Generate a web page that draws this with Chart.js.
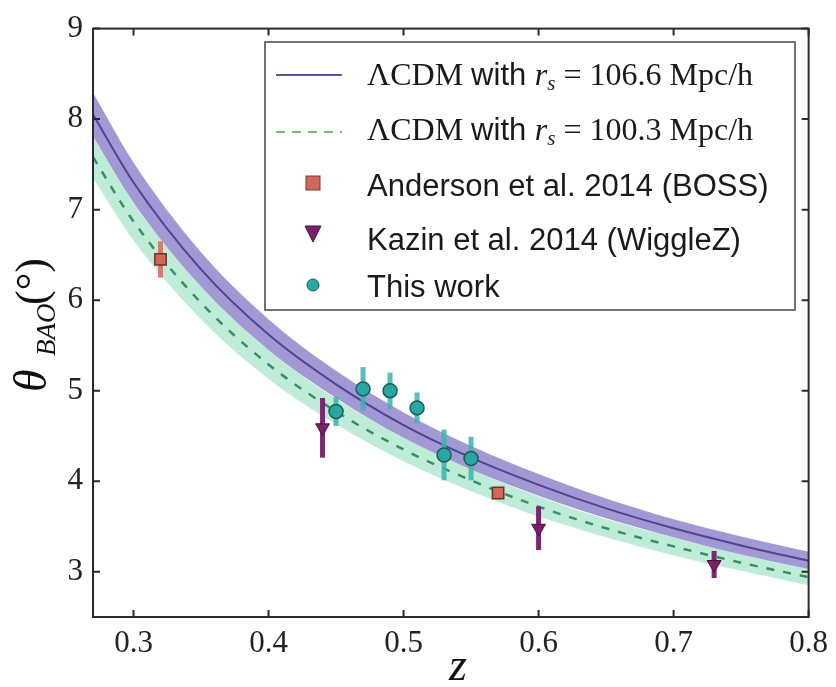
<!DOCTYPE html>
<html>
<head>
<meta charset="utf-8">
<script src="https://cdn.jsdelivr.net/npm/chart.js@4/dist/chart.umd.min.js"></script>
<style>
  html, body { margin: 0; padding: 0; background: #fff; }
  canvas { display: block; }
</style>
</head>
<body>
<canvas id="chart" width="836" height="687"></canvas>
<script>
'use strict';

// model curves
const zGrid = [0.27, 0.30, 0.35, 0.40, 0.45, 0.50, 0.55, 0.60, 0.65, 0.70, 0.75, 0.80];
const lcdm1066 = [8.05, 7.30, 6.34, 5.62, 5.07, 4.62, 4.26, 3.96, 3.70, 3.48, 3.29, 3.12];
const lcdm1066Hi = [8.29, 7.52, 6.53, 5.79, 5.22, 4.76, 4.39, 4.08, 3.81, 3.58, 3.39, 3.22];
const lcdm1066Lo = [7.81, 7.08, 6.15, 5.45, 4.92, 4.48, 4.13, 3.84, 3.59, 3.38, 3.19, 3.03];
const lcdm1003 = [7.58, 6.87, 5.97, 5.29, 4.77, 4.35, 4.01, 3.72, 3.48, 3.28, 3.10, 2.94];
const lcdm1003Hi = [7.81, 7.08, 6.15, 5.45, 4.91, 4.48, 4.13, 3.83, 3.58, 3.38, 3.19, 3.03];
const lcdm1003Lo = [7.35, 6.66, 5.79, 5.13, 4.63, 4.22, 3.89, 3.61, 3.38, 3.18, 3.01, 2.85];

// measurements
const andersonZ = [0.32, 0.57];
const andersonTheta = [6.45, 3.87];
const andersonErr = [0.20, 0.05];

const kazinZ = [0.44, 0.60, 0.73];
const kazinTheta = [4.59, 3.48, 3.08];
const kazinErr = [0.33, 0.24, 0.15];

const thisZ = [0.45, 0.47, 0.49, 0.51, 0.53, 0.55];
const thisTheta = [4.77, 5.02, 5.00, 4.81, 4.29, 4.25];
const thisErr = [0.16, 0.24, 0.20, 0.17, 0.28, 0.24];

const xTicks = [0.3, 0.4, 0.5, 0.6, 0.7, 0.8];
const yTicks = [3, 4, 5, 6, 7, 8, 9];

const SERIF = '"Liberation Serif", "DejaVu Serif", serif';
const SANS = '"Liberation Sans", Arial, sans-serif';

const pts = (xs, ys) => xs.map((x, i) => ({x: x, y: ys[i]}));

const errColor = ['rgba(214,110,98,0.9)', 'rgba(118,30,105,0.95)', 'rgba(60,180,170,0.85)'];
const errSets = [andersonErr, kazinErr, thisErr];

// error bars drawn just before each marker set
const errorBars = {
  id: 'errorBars',
  beforeDatasetDraw(chart, args) {
    const ds = chart.data.datasets[args.index];
    if (ds.errIdx === undefined) return;
    const ctx = chart.ctx, xs = chart.scales.x, ys = chart.scales.y;
    const err = errSets[ds.errIdx];
    ctx.save();
    ctx.strokeStyle = errColor[ds.errIdx];
    ctx.lineWidth = 5;
    ds.data.forEach((p, i) => {
      const px = xs.getPixelForValue(p.x);
      ctx.beginPath();
      ctx.moveTo(px, ys.getPixelForValue(p.y - err[i]));
      ctx.lineTo(px, ys.getPixelForValue(p.y + err[i]));
      ctx.stroke();
    });
    ctx.restore();
  }
};

// frame with inward ticks on all sides, axis titles, legend
const decor = {
  id: 'decor',
  afterDraw(chart) {
    const ctx = chart.ctx, a = chart.chartArea;
    const xs = chart.scales.x, ys = chart.scales.y;
    ctx.save();
    ctx.strokeStyle = '#2a2a2a';
    ctx.lineWidth = 2;
    ctx.strokeRect(a.left, a.top, a.right - a.left, a.bottom - a.top);
    ctx.beginPath();
    xTicks.forEach(v => {
      const px = xs.getPixelForValue(v);
      ctx.moveTo(px, a.bottom); ctx.lineTo(px, a.bottom - 7);
      ctx.moveTo(px, a.top); ctx.lineTo(px, a.top + 7);
    });
    yTicks.forEach(v => {
      const py = ys.getPixelForValue(v);
      ctx.moveTo(a.left, py); ctx.lineTo(a.left + 7, py);
      ctx.moveTo(a.right, py); ctx.lineTo(a.right - 7, py);
    });
    ctx.stroke();

    // y title
    ctx.fillStyle = '#111';
    ctx.textBaseline = 'alphabetic';
    ctx.save();
    ctx.translate(46, 392);
    ctx.rotate(-Math.PI / 2);
    ctx.font = 'italic 46px ' + SERIF;
    ctx.fillText('θ', 0, 0);
    ctx.font = 'italic 27px ' + SERIF;
    ctx.fillText('BAO', 36, 9);
    ctx.font = '44px ' + SERIF;
    ctx.fillText('(°)', 87, 0);
    ctx.restore();

    // x title
    ctx.font = 'italic 46px ' + SERIF;
    ctx.textAlign = 'center';
    ctx.fillText('z', 458, 680);
    ctx.textAlign = 'left';

    // legend
    const L = {x: 265, y: 42, w: 530, h: 268};
    ctx.fillStyle = '#fff';
    ctx.fillRect(L.x, L.y, L.w, L.h);
    ctx.strokeStyle = '#444';
    ctx.lineWidth = 1.5;
    ctx.strokeRect(L.x, L.y, L.w, L.h);

    ctx.lineWidth = 2;
    ctx.strokeStyle = '#5a54a0';
    ctx.beginPath(); ctx.moveTo(276, 75); ctx.lineTo(342, 75); ctx.stroke();
    ctx.strokeStyle = '#6fc276';
    ctx.setLineDash([9, 7]);
    ctx.beginPath(); ctx.moveTo(276, 132); ctx.lineTo(342, 132); ctx.stroke();
    ctx.setLineDash([]);

    ctx.lineWidth = 1;
    ctx.fillStyle = '#d0685c'; ctx.strokeStyle = '#7a3a33';
    ctx.fillRect(306, 176, 14, 14); ctx.strokeRect(306, 176, 14, 14);
    ctx.fillStyle = '#7a1f6c'; ctx.strokeStyle = '#4a1040';
    ctx.beginPath(); ctx.moveTo(305, 226); ctx.lineTo(321, 226); ctx.lineTo(313, 242); ctx.closePath();
    ctx.fill(); ctx.stroke();
    ctx.fillStyle = '#2aa6a0'; ctx.strokeStyle = '#1a5e5a';
    ctx.beginPath(); ctx.arc(313, 285, 6, 0, Math.PI * 2); ctx.fill(); ctx.stroke();

    ctx.fillStyle = '#1a1a1a';
    const lcdmLabel = (y, val) => {
      let x = 367;
      const seg = (txt, font, dy) => {
        ctx.font = font;
        ctx.fillText(txt, x, y + (dy || 0));
        x += ctx.measureText(txt).width;
      };
      seg('ΛCDM ', '32px ' + SERIF);
      seg('with ', '31px ' + SANS);
      seg('r', 'italic 32px ' + SERIF);
      seg('s', 'italic 21px ' + SERIF, 5);
      seg(' = ' + val + ' Mpc/h', '32px ' + SERIF);
    };
    lcdmLabel(85, '106.6');
    lcdmLabel(140, '100.3');
    ctx.font = '31px ' + SANS;
    ctx.fillText('Anderson et al. 2014 (BOSS)', 367, 196);
    ctx.fillText('Kazin et al. 2014 (WiggleZ)', 367, 250);
    ctx.fillText('This work', 367, 297);
    ctx.restore();
  }
};

const lineBase = {type: 'line', pointRadius: 0, borderWidth: 0, cubicInterpolationMode: 'monotone'};

new Chart(document.getElementById('chart').getContext('2d'), {
  data: {
    datasets: [
      {type: 'scatter', label: 'Anderson et al. 2014 (BOSS)', data: pts(andersonZ, andersonTheta), errIdx: 0,
        pointStyle: 'rect', pointRadius: 8, backgroundColor: '#d0685c', borderColor: '#6a322c', borderWidth: 1.5, order: 0},
      {type: 'scatter', label: 'Kazin et al. 2014 (WiggleZ)', data: pts(kazinZ, kazinTheta), errIdx: 1,
        pointStyle: 'triangle', pointRotation: 180, pointRadius: 8, backgroundColor: '#7a1f6c', borderColor: '#4a1040', borderWidth: 1, order: 1},
      {type: 'scatter', label: 'This work', data: pts(thisZ, thisTheta), errIdx: 2,
        pointStyle: 'circle', pointRadius: 7, backgroundColor: '#2aa6a0', borderColor: '#1a5e5a', borderWidth: 1.5, order: 2},
      Object.assign({}, lineBase, {label: 'rs 106.6', data: pts(zGrid, lcdm1066), borderColor: '#4d4592', borderWidth: 2, fill: false, order: 3}),
      Object.assign({}, lineBase, {label: 'rs 100.3', data: pts(zGrid, lcdm1003), borderColor: '#3a8f60', borderWidth: 2.5, borderDash: [8, 9], fill: false, order: 4}),
      Object.assign({}, lineBase, {label: 'band 106.6 hi', data: pts(zGrid, lcdm1066Hi), fill: '+1', backgroundColor: 'rgb(162,152,212)', order: 5}),
      Object.assign({}, lineBase, {label: 'band 106.6 lo', data: pts(zGrid, lcdm1066Lo), fill: false, order: 6}),
      Object.assign({}, lineBase, {label: 'band 100.3 hi', data: pts(zGrid, lcdm1003Hi), fill: '+1', backgroundColor: 'rgb(190,236,216)', order: 7}),
      Object.assign({}, lineBase, {label: 'band 100.3 lo', data: pts(zGrid, lcdm1003Lo), fill: false, order: 8})
    ]
  },
  options: {
    responsive: false,
    animation: false,
    devicePixelRatio: 1,
    layout: {padding: {left: 0, right: 26, top: 24, bottom: 0}},
    plugins: {legend: {display: false}, tooltip: {enabled: false}},
    scales: {
      x: {
        type: 'linear', min: 0.27, max: 0.8,
        afterBuildTicks: s => { s.ticks = xTicks.map(v => ({value: v})); },
        afterFit: s => { s.height = 70; },
        grid: {display: false, drawTicks: false},
        border: {display: false},
        ticks: {padding: 8, color: '#222', font: {family: SERIF, size: 31}, callback: v => v.toFixed(1), maxRotation: 0}
      },
      y: {
        type: 'linear', min: 2.5, max: 9,
        afterBuildTicks: s => { s.ticks = yTicks.map(v => ({value: v})); },
        afterFit: s => { s.width = 93; },
        grid: {display: false, drawTicks: false},
        border: {display: false},
        ticks: {padding: 10, color: '#222', font: {family: SERIF, size: 31}, callback: v => String(v)}
      }
    }
  },
  plugins: [errorBars, decor]
});
</script>
</body>
</html>
